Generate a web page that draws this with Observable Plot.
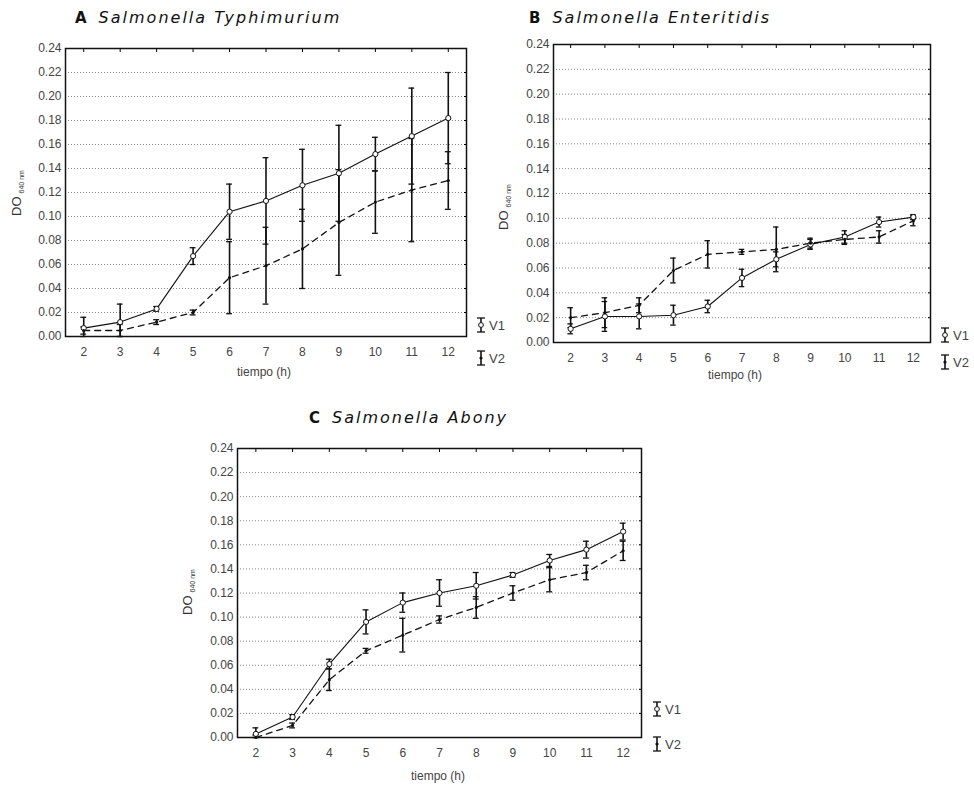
<!DOCTYPE html>
<html><head><meta charset="utf-8">
<script src="https://cdn.jsdelivr.net/npm/d3@7"></script>
<script src="https://cdn.jsdelivr.net/npm/@observablehq/plot@0.6"></script>
<style>
body{margin:0;background:#fff;}
#page{position:relative;width:974px;height:787px;overflow:hidden;background:#fff;font-family:"Liberation Sans",Arial,sans-serif;}
.title{font-family:"DejaVu Sans",sans-serif;font-size:16px;letter-spacing:2px;color:#111;white-space:nowrap;}
.title b{font-style:normal;font-weight:bold;font-size:15px;margin-right:12px;letter-spacing:0;}
.title i{font-style:oblique;}
</style>
</head><body><div id="page"></div>
<script>
// ---------- data ----------
const hours = [2, 3, 4, 5, 6, 7, 8, 9, 10, 11, 12];
const yTicks = [0, 0.02, 0.04, 0.06, 0.08, 0.10, 0.12, 0.14, 0.16, 0.18, 0.20, 0.22, 0.24];
const seriesNames = ["V1", "V2"];

// A Salmonella Typhimurium
const A_V1 = [0.007, 0.012, 0.023, 0.067, 0.104, 0.113, 0.126, 0.136, 0.152, 0.167, 0.182];
const A_V1_err = [0.009, 0.015, 0.002, 0.007, 0.023, 0.036, 0.030, 0.040, 0.014, 0.040, 0.038];
const A_V2 = [0.005, 0.005, 0.012, 0.020, 0.049, 0.059, 0.073, 0.095, 0.112, 0.122, 0.130];
const A_V2_err = [0.003, 0.005, 0.002, 0.002, 0.030, 0.032, 0.033, 0.044, 0.026, 0.043, 0.024];

// B Salmonella Enteritidis
const B_V1 = [0.011, 0.021, 0.021, 0.022, 0.029, 0.052, 0.067, 0.079, 0.085, 0.097, 0.101];
const B_V1_err = [0.004, 0.012, 0.010, 0.008, 0.005, 0.007, 0.006, 0.004, 0.005, 0.004, 0.002];
const B_V2 = [0.020, 0.024, 0.030, 0.058, 0.071, 0.073, 0.075, 0.080, 0.083, 0.085, 0.098];
const B_V2_err = [0.008, 0.012, 0.006, 0.010, 0.011, 0.002, 0.018, 0.004, 0.004, 0.005, 0.004];

// C Salmonella Abony
const C_V1 = [0.003, 0.017, 0.061, 0.096, 0.112, 0.120, 0.126, 0.135, 0.147, 0.156, 0.171];
const C_V1_err = [0.005, 0.002, 0.004, 0.010, 0.008, 0.011, 0.011, 0.002, 0.005, 0.007, 0.007];
const C_V2 = [0.000, 0.010, 0.048, 0.072, 0.085, 0.098, 0.108, 0.120, 0.131, 0.137, 0.155];
const C_V2_err = [0.002, 0.002, 0.009, 0.002, 0.014, 0.003, 0.009, 0.006, 0.010, 0.006, 0.008];

// ---------- build ----------
const page = document.getElementById("page");
const overlays = [];
function rows(v1, e1, v2, e2) {
  const out = [];
  hours.forEach((h, i) => {
    out.push({h, s: "V1", v: v1[i], e: e1[i]});
    out.push({h, s: "V2", v: v2[i], e: e2[i]});
  });
  return out;
}
function place(el, left, top) {
  el.style.position = "absolute"; el.style.left = left + "px"; el.style.top = top + "px";
  page.appendChild(el);
}
function panel(cfg) {
  const data = rows(cfg.v1, cfg.e1, cfg.v2, cfg.e2);
  const d1 = data.filter(d => d.s === "V1"), d2 = data.filter(d => d.s === "V2");
  const cap = 0.08;
  const chart = Plot.plot({
    width: cfg.w, height: cfg.h,
    marginLeft: cfg.mL, marginRight: cfg.mR, marginTop: cfg.mT, marginBottom: cfg.mB,
    style: {fontFamily: "'Liberation Sans', Arial, sans-serif", fontSize: "12px", color: "#444", background: "transparent", overflow: "visible"},
    x: {domain: [1.5, 12.5]},
    y: {domain: [0, 0.24]},
    marks: [
      Plot.gridY(yTicks.filter(t => t > 0 && t < 0.24), {stroke: "#888", strokeOpacity: 1, strokeDasharray: "1,2", strokeWidth: 1}),
      Plot.axisY(yTicks, {tickFormat: d3.format(".2f"), tickSize: 0, tickPadding: 4, label: null, fill: "#444", fontSize: 12}),
      Plot.axisX(hours, {tickFormat: d => d, tickSize: 0, tickPadding: 11, label: null, fill: "#444", fontSize: 12}),
      Plot.axisX(hours, {anchor: "top", tickSize: -3, tickFormat: () => "", label: null, stroke: "#000"}),
      Plot.axisY(yTicks, {anchor: "right", tickSize: -3, tickFormat: () => "", label: null, stroke: "#000"}),
      // error bars
      Plot.ruleX(data, {x: "h", y1: d => Math.max(0, d.v - d.e), y2: d => d.v + d.e, stroke: "#111", strokeWidth: 1.6}),
      Plot.ruleY(data, {y: d => d.v + d.e, x1: d => d.h - cap, x2: d => d.h + cap, stroke: "#111", strokeWidth: 1.3}),
      Plot.ruleY(data, {y: d => Math.max(0, d.v - d.e), x1: d => d.h - cap, x2: d => d.h + cap, stroke: "#111", strokeWidth: 1.3}),
      // lines
      Plot.line(d1, {x: "h", y: "v", stroke: "#111", strokeWidth: 1.1}),
      Plot.line(d2, {x: "h", y: "v", stroke: "#111", strokeWidth: 1.3, strokeDasharray: "6,5"}),
      Plot.dot(d1, {x: "h", y: "v", r: 2.6, stroke: "#111", fill: "white", strokeWidth: 1}),
      Plot.dot(d2, {x: "h", y: "v", r: 1.6, fill: "#111", stroke: "none"}),
      Plot.frame({stroke: "#111", strokeWidth: 1.5})
    ]
  });
  place(chart, cfg.left, cfg.top);

  // title
  const t = document.createElement("div");
  t.className = "title";
  t.innerHTML = `<b>${cfg.letter}</b><i>${cfg.name}</i>`;
  place(t, cfg.tx, cfg.ty);

  // x label
  const xl = document.createElement("div");
  xl.style.cssText = "font-size:12px;color:#444;white-space:nowrap;transform:translateX(-50%);";
  xl.textContent = "tiempo (h)";
  place(xl, cfg.xlx, cfg.xly);

  overlays.push(cfg);
}

function drawOverlay() {
  const ov = d3.create("svg").attr("width", 974).attr("height", 787)
    .style("position", "absolute").style("left", "0px").style("top", "0px").style("pointer-events", "none");
  overlays.forEach(cfg => {
    const yl = ov.append("text").attr("transform", `translate(${cfg.ylx},${cfg.yly}) rotate(-90)`)
      .attr("text-anchor", "middle").attr("font-family", "'Liberation Sans', Arial, sans-serif")
      .attr("font-size", 13).attr("fill", "#333");
    yl.append("tspan").text("DO");
    yl.append("tspan").attr("font-size", 7).attr("dy", 3).attr("dx", 3).text("640 nm");

    seriesNames.forEach((s, i) => {
      const cx = cfg.lgx, cy = cfg.lgy + i * cfg.lgdy;
      const g = ov.append("g");
      g.append("line").attr("x1", cx).attr("x2", cx).attr("y1", cy - 7).attr("y2", cy + 7).attr("stroke", "#111").attr("stroke-width", 1.6);
      g.append("line").attr("x1", cx - 4).attr("x2", cx + 4).attr("y1", cy - 7).attr("y2", cy - 7).attr("stroke", "#111").attr("stroke-width", 1.3);
      g.append("line").attr("x1", cx - 4).attr("x2", cx + 4).attr("y1", cy + 7).attr("y2", cy + 7).attr("stroke", "#111").attr("stroke-width", 1.3);
      if (s === "V1") g.append("circle").attr("cx", cx).attr("cy", cy).attr("r", 2.4).attr("fill", "white").attr("stroke", "#111");
      else g.append("circle").attr("cx", cx).attr("cy", cy).attr("r", 1.6).attr("fill", "#111");
      g.append("text").attr("x", cx + 8).attr("y", cy + 5).attr("font-size", 13)
        .attr("font-family", "'Liberation Sans', Arial, sans-serif").attr("fill", "#444").text(s);
    });
  });
  page.appendChild(ov.node());
}

panel({letter: "A", name: "Salmonella Typhimurium", v1: A_V1, e1: A_V1_err, v2: A_V2, e2: A_V2_err,
  left: 0, top: 0, w: 500, h: 390, mL: 65, mR: 34, mT: 48, mB: 54,
  tx: 75, ty: 8, xlx: 264, xly: 365, ylx: 21, yly: 193, lgx: 481, lgy: 325, lgdy: 33});
panel({letter: "B", name: "Salmonella Enteritidis", v1: B_V1, e1: B_V1_err, v2: B_V2, e2: B_V2_err,
  left: 490, top: 0, w: 484, h: 390, mL: 63, mR: 44, mT: 44, mB: 48,
  tx: 529, ty: 8, xlx: 735, xly: 368, ylx: 508, yly: 207, lgx: 945, lgy: 335, lgdy: 27});
panel({letter: "C", name: "Salmonella Abony", v1: C_V1, e1: C_V1_err, v2: C_V2, e2: C_V2_err,
  left: 180, top: 390, w: 500, h: 397, mL: 57, mR: 39, mT: 58, mB: 50,
  tx: 309, ty: 408, xlx: 438, xly: 769, ylx: 192, yly: 592, lgx: 657, lgy: 709, lgdy: 35});
drawOverlay();
</script>
</body></html>
